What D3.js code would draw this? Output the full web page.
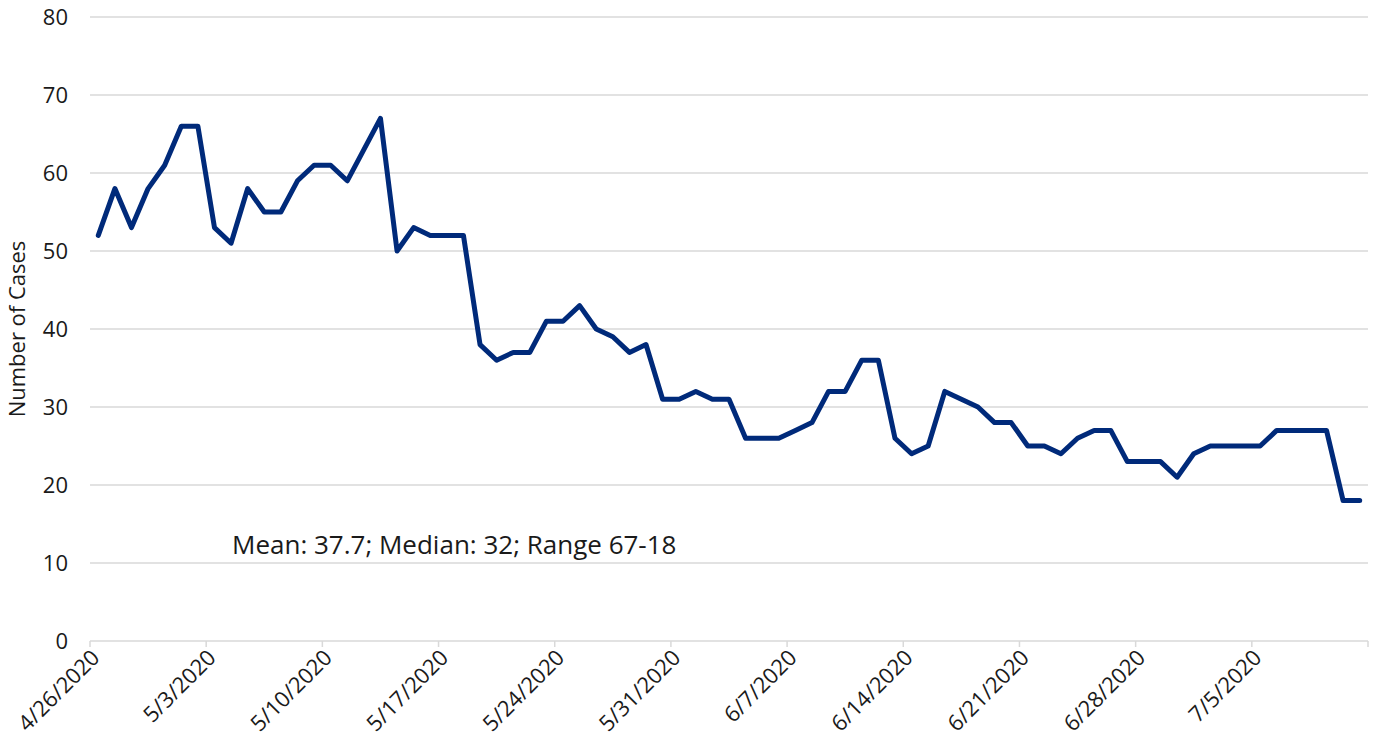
<!DOCTYPE html>
<html>
<head>
<meta charset="utf-8">
<script src="https://cdn.jsdelivr.net/npm/d3@7"></script>
<style>
  body { margin: 0; background: #fff; }
  text { font-family: "Open Sans", sans-serif; fill: #1a1a1a; }
</style>
</head>
<body>
<div class="canvas"></div>
<script>
const dimensions = { width: 1374, height: 750 };
const margin = { top: 17, right: 6, bottom: 109, left: 90 };

// data
const startDate = '2020-04-26';
const cases = [
    52, 58, 53, 58, 61, 66, 66,
    53, 51, 58, 55, 55, 59, 61,
    61, 59, 63, 67, 50, 53, 52,
    52, 52, 38, 36, 37, 37, 41,
    41, 43, 40, 39, 37, 38, 31,
    31, 32, 31, 31, 26, 26, 26,
    27, 28, 32, 32, 36, 36, 26,
    24, 25, 32, 31, 30, 28, 28,
    25, 25, 24, 26, 27, 27, 23,
    23, 23, 21, 24, 25, 25, 25,
    25, 27, 27, 27, 27, 18, 18
];
const yTicks = [0, 10, 20, 30, 40, 50, 60, 70, 80];
const note = 'Mean: 37.7; Median: 32; Range 67-18';

const parse = d3.timeParse('%Y-%m-%d');
const fmt = d => `${d.getMonth() + 1}/${d.getDate()}/${d.getFullYear()}`;
const dates = cases.map((c, i) => d3.timeDay.offset(parse(startDate), i));

const w = dimensions.width - margin.left - margin.right;
const h = dimensions.height - margin.top - margin.bottom;

const svg = d3.select('.canvas')
    .append('svg')
    .attr('width', dimensions.width)
    .attr('height', dimensions.height);

const graph = svg.append('g')
    .attr('transform', `translate(${margin.left}, ${margin.top})`);

// category style axis: points centered in day bands
const x = d3.scaleBand()
    .domain(dates.map(fmt))
    .range([0, w]);

const y = d3.scaleLinear()
    .domain([0, 80])
    .range([h, 0]);

// gridlines
graph.selectAll('.grid')
    .data(yTicks)
    .enter()
    .append('line')
    .attr('class', 'grid')
    .attr('x1', 0)
    .attr('x2', w)
    .attr('y1', d => y(d))
    .attr('y2', d => y(d))
    .attr('stroke', '#d9d9d9')
    .attr('stroke-width', 1.5);

// y labels
graph.selectAll('.ylabel')
    .data(yTicks)
    .enter()
    .append('text')
    .attr('class', 'ylabel')
    .attr('x', -22)
    .attr('y', d => y(d))
    .attr('dy', '0.35em')
    .attr('text-anchor', 'end')
    .style('font-size', '22px')
    .text(d => d);

// x axis ticks every 7 days, at band boundaries
const weekDates = dates.filter((d, i) => i % 7 === 0);
const xTicks = weekDates.map(d => x(fmt(d))).concat([w]);

graph.selectAll('.xtick')
    .data(xTicks)
    .enter()
    .append('line')
    .attr('class', 'xtick')
    .attr('x1', d => d)
    .attr('x2', d => d)
    .attr('y1', h)
    .attr('y2', h + 6)
    .attr('stroke', '#d9d9d9')
    .attr('stroke-width', 1.5);

graph.selectAll('.xlabel')
    .data(weekDates)
    .enter()
    .append('text')
    .attr('class', 'xlabel')
    .attr('text-anchor', 'end')
    .attr('transform', d => `translate(${x(fmt(d)) + 11}, ${h + 18}) rotate(-45)`)
    .style('font-size', '22px')
    .text(d => fmt(d));

// y axis title
svg.append('text')
    .attr('transform', `translate(25, ${margin.top + y(40)}) rotate(-90)`)
    .attr('text-anchor', 'middle')
    .style('font-size', '22px')
    .text('Number of Cases');

// line
const line = d3.line()
    .x((d, i) => x(fmt(dates[i])) + x.bandwidth() / 2)
    .y(d => y(d));

graph.append('path')
    .datum(cases)
    .attr('fill', 'none')
    .attr('stroke', '#002a7a')
    .attr('stroke-width', 5)
    .attr('stroke-linejoin', 'round')
    .attr('stroke-linecap', 'round')
    .attr('d', line);

// annotation
svg.append('text')
    .attr('x', 232)
    .attr('y', 554)
    .style('font-size', '26px')
    .text(note);
</script>
</body>
</html>
